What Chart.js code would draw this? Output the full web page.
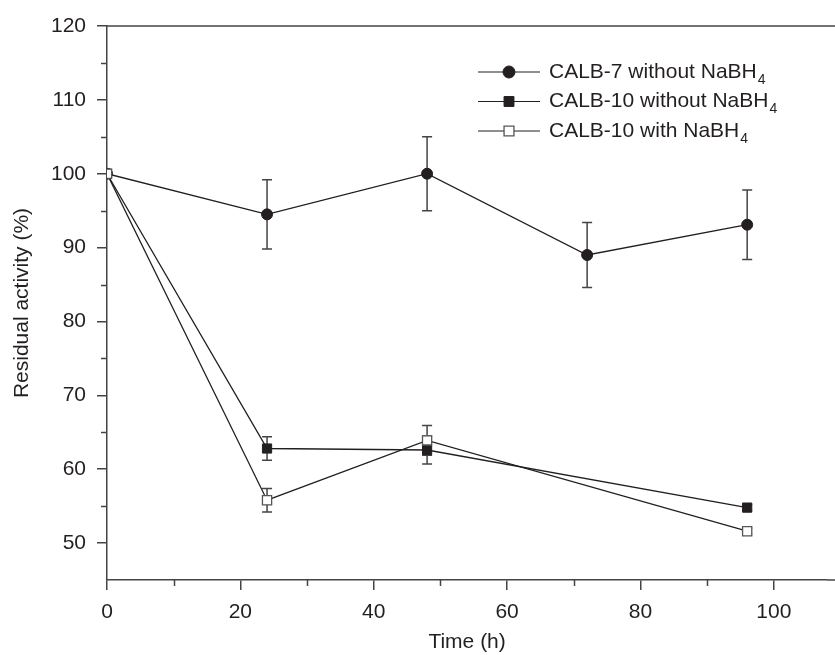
<!DOCTYPE html>
<html>
<head>
<meta charset="utf-8">
<script src="https://cdn.jsdelivr.net/npm/chart.js@4"></script>
<style>
  html, body { margin: 0; padding: 0; background: #fff; }
  #wrap { width: 835px; height: 655px; }
</style>
</head>
<body>
<div id="wrap"><canvas id="myChart"></canvas></div>
<script>
// data
const labels = ["CALB-7 without NaBH₄", "CALB-10 without NaBH₄", "CALB-10 with NaBH₄"];
const timesA = [0, 24, 48, 72, 96];
const calb7 = [100, 94.5, 100, 89.0, 93.1];
const calb7Err = [0, 4.7, 5.0, 4.4, 4.7];
const timesB = [0, 24, 48, 96];
const calb10 = [100, 62.8, 62.6, 54.8];
const calb10Err = [0, 1.6, 1.9, 0.4];
const calb10Na = [100, 55.8, 63.9, 51.6];
const calb10NaErr = [0, 1.6, 2.0, 0.4];

const FONT = "'Liberation Sans', Arial, Helvetica, sans-serif";
const INK = "#231f20";

function pts(xs, ys) {
  return xs.map((x, i) => ({ x: x, y: ys[i] }));
}

// error bars, drawn under the markers
const errorBars = {
  id: "errorBars",
  beforeDatasetsDraw(chart) {
    const ctx = chart.ctx;
    const xs = chart.scales.x, ys = chart.scales.y;
    ctx.save();
    ctx.strokeStyle = "#444";
    ctx.lineWidth = 1.5;
    chart.data.datasets.forEach(ds => {
      ds.data.forEach((p, i) => {
        const e = ds.err[i];
        if (!e) return;
        const px = xs.getPixelForValue(p.x);
        const top = ys.getPixelForValue(p.y + e);
        const bot = ys.getPixelForValue(p.y - e);
        ctx.beginPath();
        ctx.moveTo(px, top); ctx.lineTo(px, bot);
        ctx.moveTo(px - 5, top); ctx.lineTo(px + 5, top);
        ctx.moveTo(px - 5, bot); ctx.lineTo(px + 5, bot);
        ctx.stroke();
      });
    });
    ctx.restore();
  }
};

// minor ticks and the top frame line
const frame = {
  id: "frame",
  afterDraw(chart) {
    const ctx = chart.ctx;
    const a = chart.chartArea;
    const xs = chart.scales.x, ys = chart.scales.y;
    ctx.save();
    ctx.strokeStyle = "#444";
    ctx.lineWidth = 1.5;
    ctx.beginPath();
    ctx.moveTo(a.left, a.top);
    ctx.lineTo(chart.width, a.top);
    ctx.moveTo(a.right, a.bottom);
    ctx.lineTo(chart.width, a.bottom);
    for (let v = 10; v < xs.max; v += 20) {
      const px = Math.round(xs.getPixelForValue(v)) + 0.5;
      ctx.moveTo(px, a.bottom);
      ctx.lineTo(px, a.bottom + 6);
    }
    for (let v = 55; v < ys.max; v += 10) {
      const py = Math.round(ys.getPixelForValue(v)) + 0.5;
      ctx.moveTo(a.left, py);
      ctx.lineTo(a.left - 6, py);
    }
    ctx.stroke();
    ctx.restore();
  }
};

// legend with line + marker, subscript 4
const lineLegend = {
  id: "lineLegend",
  afterDraw(chart) {
    const ctx = chart.ctx;
    const a = chart.chartArea;
    const x0 = a.left + 371;
    let y = a.top + 46;
    ctx.save();
    chart.data.datasets.forEach(ds => {
      ctx.strokeStyle = INK;
      ctx.lineWidth = 1.2;
      ctx.beginPath();
      ctx.moveTo(x0, y);
      ctx.lineTo(x0 + 62, y);
      ctx.stroke();
      ctx.fillStyle = ds.pointBackgroundColor;
      ctx.strokeStyle = ds.pointBorderColor;
      ctx.lineWidth = ds.pointBorderWidth;
      Chart.helpers.drawPoint(ctx, {
        pointStyle: ds.pointStyle,
        radius: ds.pointRadius + 0.5,
        borderWidth: ds.pointBorderWidth
      }, x0 + 31, y);

      let txt = ds.label;
      let sub = "";
      if (txt.endsWith("₄")) { txt = txt.slice(0, -1); sub = "4"; }
      ctx.fillStyle = INK;
      ctx.textBaseline = "middle";
      ctx.textAlign = "left";
      ctx.font = "21px " + FONT;
      ctx.fillText(txt, x0 + 71, y);
      if (sub) {
        const w = ctx.measureText(txt).width;
        ctx.font = "14px " + FONT;
        ctx.fillText(sub, x0 + 72 + w, y + 8);
      }
      y += 29.5;
    });
    ctx.restore();
  }
};

const data = {
  datasets: [
    {
      label: labels[0],
      data: pts(timesA, calb7),
      err: calb7Err,
      borderColor: INK,
      borderWidth: 1.3,
      pointStyle: "circle",
      pointRadius: 5.5,
      pointBackgroundColor: INK,
      pointBorderColor: INK,
      pointBorderWidth: 1,
      order: 3
    },
    {
      label: labels[1],
      data: pts(timesB, calb10),
      err: calb10Err,
      borderColor: INK,
      borderWidth: 1.3,
      pointStyle: "rect",
      pointRadius: 6.5,
      pointBackgroundColor: INK,
      pointBorderColor: INK,
      pointBorderWidth: 1,
      order: 2
    },
    {
      label: labels[2],
      data: pts(timesB, calb10Na),
      err: calb10NaErr,
      borderColor: INK,
      borderWidth: 1.3,
      pointStyle: "rect",
      pointRadius: 6.5,
      pointBackgroundColor: "#fff",
      pointBorderColor: "#555",
      pointBorderWidth: 1.3,
      order: 1
    }
  ]
};

const config = {
  type: "scatter",
  data: data,
  options: {
    responsive: true,
    maintainAspectRatio: false,
    animation: false,
    showLine: true,
    layout: { padding: { top: 26, right: 0, left: 0, bottom: 0 } },
    plugins: {
      legend: { display: false },
      tooltip: { enabled: false }
    },
    scales: {
      x: {
        type: "linear",
        min: 0,
        max: 108,
        afterFit: s => { s.height = 75; },
        ticks: {
          stepSize: 20,
          includeBounds: false,
          color: INK,
          padding: 10,
          font: { family: FONT, size: 21 }
        },
        grid: { drawOnChartArea: false, tickLength: 10, color: "#444", lineWidth: 1.5 },
        border: { color: "#444", width: 1.5 },
        title: {
          display: true,
          text: "Time (h)",
          color: INK,
          font: { family: FONT, size: 21 },
          padding: { top: 2, bottom: 0 }
        }
      },
      y: {
        min: 45,
        max: 120,
        afterFit: s => { s.width = 107; },
        ticks: {
          stepSize: 10,
          includeBounds: false,
          color: INK,
          padding: 11,
          font: { family: FONT, size: 21 }
        },
        grid: { drawOnChartArea: false, tickLength: 10, color: "#444", lineWidth: 1.5 },
        border: { color: "#444", width: 1.5 },
        title: {
          display: true,
          text: "Residual activity (%)",
          color: INK,
          font: { family: FONT, size: 21 },
          padding: { top: 10, bottom: 0 }
        }
      }
    }
  },
  plugins: [errorBars, frame, lineLegend]
};

const ctx = document.getElementById("myChart").getContext("2d");
const myChart = new Chart(ctx, config);
</script>
</body>
</html>
